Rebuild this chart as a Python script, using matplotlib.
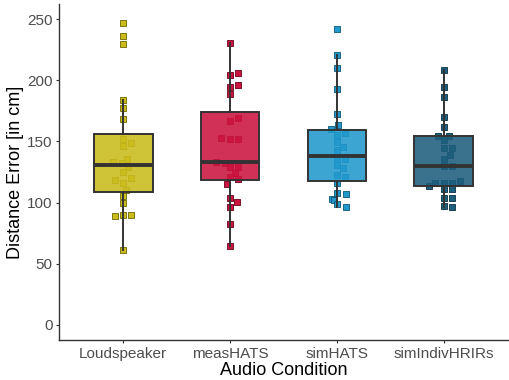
import numpy as np
import matplotlib
matplotlib.use("Agg")
import matplotlib.pyplot as plt

plt.rcParams['font.family'] = ['Liberation Sans', 'DejaVu Sans']

conditions = ["Loudspeaker", "measHATS", "simHATS", "simIndivHRIRs"]
colors = ["#C9BC1C", "#CC1440", "#2199CC", "#1E5F7E"]
edge_colors = ["#6E6600", "#6A0018", "#0B5576", "#0A2F40"]

# distance errors per condition (cm)
loudspeaker = [246.5, 236, 230, 184, 177.5, 168.5, 152, 148.4, 146, 135.6, 133.4, 132.6,
               129, 125, 120.4, 118.5, 115.8, 110.3, 105.4, 100, 90, 89, 89.5, 61]
meas_hats = [230.6, 205.6, 204, 196, 194.7, 188.5, 169.4, 167, 153, 151.7, 152, 133.4,
             132.6, 129.3, 129.3, 124.4, 120.6, 119.3, 115.2, 103.5, 100.2, 96.7, 82.5, 64.5]
sim_hats = [241.6, 220.6, 210.2, 192.8, 172.4, 163.2, 159.9, 157.1, 155.2, 149.8, 145.7, 143,
            135.4, 135, 141.5, 130.7, 128.5, 122.5, 121.2, 116, 107.6, 107, 103, 102, 98.6, 96.2]
sim_indiv = [208.3, 194.2, 186.5, 169.7, 162, 154.4, 154.4, 151, 144.4, 145, 138.9, 135.6,
             130, 130, 117.9, 116.3, 116.3, 116.3, 113.6, 110.9, 110.9, 104, 104, 97.2, 96.5]

# horizontal jitter lanes (as seen in the picture)
lanes = [
    [0, 0, 0, 0, 0, 0, 0, 1, 0, 0.5, -1.3, -0.2, 0.6, 0, 1, -1, 0, 0.3, 0, 0, 0, -1, 1, 0],
    [0, 1, 0, 1, 0, 0, 1, 0, -1.1, 0, 1, -1.7, -0.6, 0, 1, 0.6, 0, 1, -0.4, 0, 0.9, 0, 0, 0],
    [0, 0, 0, 0, 0, 0.1, -0.7, 1, 0, 0, 0.8, 0, 1, 0, 0, 0, 0.8, 0, 1, 0, 0, 1.1, -0.6, -0.4, 0, 1.1],
    [0, 0, 0, 0, 0, -0.7, 0.7, 0, 0, 1, 0.75, 0, 0, 1, 2, -1.1, 0, 1, -1.9, 0, 1, 0, 1, 0, 1],
]
groups = [loudspeaker, meas_hats, sim_hats, sim_indiv]
positions = np.arange(1, len(conditions) + 1)

fig = plt.figure(figsize=(5.1, 3.8), dpi=100)
ax = fig.add_axes([0.1157, 0.1045, 0.8803, 0.8855])

for i, vals in enumerate(groups):
    x = positions[i] + np.array(lanes[i]) * 0.075
    ax.scatter(x, vals, marker='s', s=22, color=colors[i], edgecolors=edge_colors[i],
               linewidths=0.6, zorder=2)

bp = ax.boxplot(groups, positions=positions, widths=0.55, patch_artist=True,
                showfliers=False, showcaps=False, whis=1.5,
                medianprops=dict(color='#333333', linewidth=2.8),
                whiskerprops=dict(color='#333333', linewidth=1.4),
                boxprops=dict(edgecolor='#333333', linewidth=1.4))
for patch, c in zip(bp['boxes'], colors):
    patch.set_facecolor(matplotlib.colors.to_rgba(c, 0.88))
    patch.set_zorder(3)
for w in bp['whiskers']:
    w.set_zorder(3)
for m in bp['medians']:
    m.set_zorder(4)

ax.set_xlim(0.4, 4.6)
ax.set_ylim(-12.5, 262.5)
ax.set_yticks([0, 50, 100, 150, 200, 250])
ax.set_xticks(positions)
ax.set_xticklabels(conditions)

for s in ['top', 'right']:
    ax.spines[s].set_visible(False)
for s in ['left', 'bottom']:
    ax.spines[s].set_color('#333333')
    ax.spines[s].set_linewidth(1.0)
ax.tick_params(axis='both', colors='#333333', length=2.5, width=0.8, pad=2,
               labelsize=11, labelcolor='#4D4D4D')

ax.set_xlabel("Audio Condition", fontsize=13, color='black', labelpad=1)
ax.set_ylabel("Distance Error [in cm]", fontsize=13, color='black', labelpad=2)

fig.savefig("out.png", dpi=100)
